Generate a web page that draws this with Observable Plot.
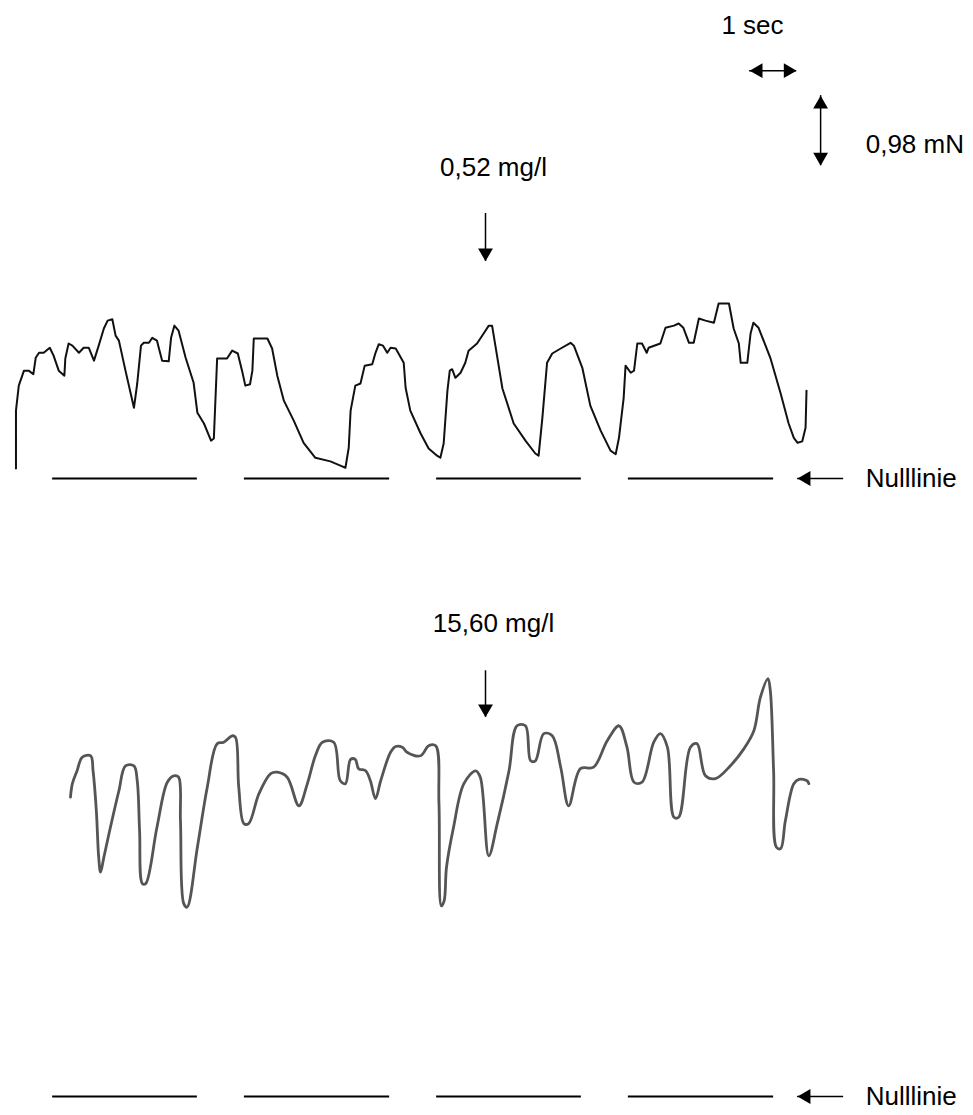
<!DOCTYPE html>
<html>
<head>
<meta charset="utf-8">
<script src="https://cdn.jsdelivr.net/npm/d3@7"></script>
<script src="https://cdn.jsdelivr.net/npm/@observablehq/plot@0.6"></script>
<style>
  html, body { margin: 0; padding: 0; background: #fff; }
  #chart svg { display: block; }
</style>
</head>
<body>
<div id="chart"></div>
<script>
// ---------- DATA (time in s, force in mN above each panel's zero line) ----------
const topTrace = [
  [0.01,0.14],[0.01,0.95],[0.07,1.30],[0.18,1.51],[0.28,1.51],[0.38,1.46],[0.43,1.69],[0.50,1.76],
  [0.60,1.76],[0.73,1.83],[0.81,1.72],[0.92,1.51],[1.04,1.44],[1.06,1.68],[1.13,1.89],[1.21,1.86],
  [1.35,1.76],[1.45,1.83],[1.56,1.83],[1.67,1.65],[1.77,1.86],[1.88,2.10],[1.96,2.21],[2.06,2.23],
  [2.13,2.00],[2.20,1.93],[2.34,1.51],[2.52,0.99],[2.59,1.33],[2.67,1.86],[2.73,1.90],[2.84,1.90],
  [2.91,1.97],[3.01,1.93],[3.12,1.65],[3.26,1.64],[3.31,1.97],[3.38,2.14],[3.47,2.07],[3.62,1.69],
  [3.79,1.34],[3.87,0.92],[4.01,0.77],[4.16,0.53],[4.22,0.56],[4.29,1.68],[4.50,1.68],[4.61,1.79],
  [4.73,1.75],[4.82,1.51],[4.89,1.30],[4.99,1.32],[5.04,1.51],[5.07,1.96],[5.36,1.96],[5.46,1.82],
  [5.57,1.44],[5.71,1.09],[5.92,0.81],[6.13,0.50],[6.38,0.29],[6.70,0.24],[6.95,0.17],[7.02,0.15],
  [7.09,0.43],[7.13,0.95],[7.23,1.30],[7.34,1.33],[7.43,1.58],[7.59,1.60],[7.66,1.76],[7.73,1.88],
  [7.82,1.86],[7.91,1.76],[7.98,1.83],[8.09,1.82],[8.26,1.62],[8.30,1.27],[8.40,0.95],[8.62,0.63],
  [8.79,0.42],[8.97,0.32],[9.04,0.29],[9.11,0.49],[9.19,1.23],[9.24,1.51],[9.29,1.53],[9.36,1.41],
  [9.47,1.48],[9.57,1.62],[9.64,1.79],[9.82,1.89],[9.96,2.03],[10.07,2.14],[10.14,2.14],[10.21,1.86],
  [10.36,1.26],[10.60,0.77],[10.85,0.53],[11.06,0.35],[11.13,0.32],[11.21,0.85],[11.31,1.62],[11.42,1.75],
  [11.60,1.82],[11.81,1.90],[11.88,1.86],[12.06,1.55],[12.23,1.02],[12.45,0.67],[12.66,0.39],[12.77,0.34],
  [12.84,0.57],[12.94,1.13],[12.98,1.58],[13.09,1.48],[13.16,1.51],[13.23,1.89],[13.33,1.89],[13.43,1.76],
  [13.47,1.83],[13.72,1.89],[13.83,2.11],[14.01,2.14],[14.11,2.17],[14.21,2.11],[14.33,1.90],[14.43,1.90],
  [14.54,2.24],[14.68,2.21],[14.86,2.18],[14.96,2.45],[15.18,2.45],[15.28,2.10],[15.39,1.89],[15.43,1.62],
  [15.57,1.62],[15.64,2.03],[15.70,2.18],[15.81,2.11],[16.06,1.69],[16.28,1.19],[16.45,0.77],[16.56,0.57],
  [16.64,0.50],[16.74,0.52],[16.81,0.71],[16.83,1.23]
];

const bottomTrace = [
  [1.17,4.19],[1.21,4.38],[1.31,4.56],[1.42,4.75],[1.60,4.77],[1.65,4.56],[1.72,4.00],[1.77,3.35],
  [1.81,3.14],[1.88,3.35],[2.02,3.77],[2.20,4.28],[2.34,4.63],[2.52,4.63],[2.59,4.42],[2.64,3.72],
  [2.70,2.98],[2.77,2.98],[3.01,3.77],[3.23,4.40],[3.37,4.49],[3.47,4.47],[3.51,3.86],[3.58,2.70],
  [3.65,2.65],[3.87,3.49],[4.08,4.33],[4.29,4.94],[4.43,4.96],[4.61,5.05],[4.68,5.03],[4.75,4.33],
  [4.86,3.82],[4.96,3.82],[5.18,4.24],[5.43,4.52],[5.57,4.54],[5.78,4.47],[6.03,4.07],[6.21,4.38],
  [6.38,4.77],[6.53,4.96],[6.77,4.96],[6.91,4.42],[7.02,4.38],[7.13,4.72],[7.23,4.72],[7.30,4.59],
  [7.45,4.56],[7.55,4.42],[7.66,4.17],[7.77,4.42],[7.98,4.82],[8.09,4.90],[8.23,4.89],[8.33,4.82],
  [8.62,4.77],[8.79,4.91],[8.94,4.91],[9.01,4.10],[9.06,2.67],[9.12,2.74],[9.17,3.21],[9.32,3.77],
  [9.54,4.38],[9.79,4.56],[9.89,4.47],[10.07,3.37],[10.25,3.82],[10.50,4.56],[10.67,5.19],[10.85,5.19],
  [10.96,4.70],[11.06,4.70],[11.24,5.08],[11.42,5.05],[11.60,4.61],[11.77,4.07],[12.02,4.59],[12.30,4.61],
  [12.59,4.98],[12.84,5.19],[13.01,4.89],[13.16,4.40],[13.33,4.40],[13.58,4.96],[13.72,5.08],[13.87,4.89],
  [14.01,3.91],[14.11,3.91],[14.36,4.89],[14.50,4.94],[14.68,4.49],[14.89,4.45],[15.21,4.63],[15.50,4.87],
  [15.71,5.12],[15.85,5.59],[16.01,5.85],[16.06,5.68],[16.13,4.56],[16.19,3.49],[16.28,3.47],[16.38,3.86],
  [16.56,4.38],[16.67,4.44],[16.84,4.42],[16.88,4.38]
];

// zero-line ("Nulllinie") segments, in s
const zeroStarts = [0.79, 4.87, 8.96, 13.04];
const zeroEnds   = [3.87, 7.96, 12.04, 16.13];

// panel labels (dose) and arrow marks
const doseLabels = ["0,52 mg/l", "15,60 mg/l"];
const doseArrowTime = [10.0, 10.0];
const doseLabelTime = [10.17, 10.17];
const doseArrowFrom = [3.71, 5.96];   // mN (arrow tail)
const doseArrowTo   = [3.04, 5.31];   // mN (arrow tip)
const doseLabelForce = [4.35, 6.62];  // mN (label centre)

const zeroLabel = "Nulllinie";

// calibration bars
const timeBar = { label: "1 sec", from: 15.62, to: 16.62, force: 5.71, labelTime: 15.68, labelForce: 6.34 };
const forceBar = { label: "0,98 mN", time: 17.13, from: 4.38, to: 5.36, labelTime: 18.09, labelForce: 4.68 };

// ---------- LAYOUT ----------
const W = 973, H = 1115;
const PX_PER_SEC = 47;
const PX_PER_MN = 70 / 0.98;
const T0_PX = 15;                 // page x of t = 0
const BASE_PX = [478, 1096];      // page y of each panel's zero line
const panelOffset = BASE_PX.map(b => (BASE_PX[1] - b) / PX_PER_MN); // mN shift per panel

const xDomain = [-T0_PX / PX_PER_SEC, (W - T0_PX) / PX_PER_SEC];
const yDomain = [(BASE_PX[1] - H) / PX_PER_MN, BASE_PX[1] / PX_PER_MN];

const Y = (v, p) => v + panelOffset[p];

const topData = topTrace.map(([t, v]) => ({t, y: Y(v, 0)}));
const bottomData = bottomTrace.map(([t, v]) => ({t, y: Y(v, 1)}));

const zeroSegs = [0, 1].flatMap(p => zeroStarts.map((s, i) => ({x1: s, x2: zeroEnds[i], y: Y(0, p)})));

const doseArrows = [0, 1].map(p => ({x: doseArrowTime[p], y1: Y(doseArrowFrom[p], p), y2: Y(doseArrowTo[p], p)}));
const doseTexts = [0, 1].map(p => ({x: doseLabelTime[p], y: Y(doseLabelForce[p], p), text: doseLabels[p]}));

const nullArrowTail = 17.62, nullArrowTip = 16.64, nullLabelTime = 18.09;
const nullArrows = [0, 1].map(p => ({x1: nullArrowTail, x2: nullArrowTip, y: Y(0, p)}));
const nullTexts = [0, 1].map(p => ({x: nullLabelTime, y: Y(0, p), text: zeroLabel}));

const headR = 5.5;
const tipOff = 2 * Math.sqrt(Math.PI * headR * headR / (3 * Math.sqrt(3)));

const font = "Liberation Sans, Arial, Helvetica, sans-serif";
const FS = 26;

const chart = Plot.plot({
  width: W,
  height: H,
  margin: 0,
  style: { background: "#fff", fontFamily: font },
  x: { domain: xDomain, axis: null },
  y: { domain: yDomain, axis: null },
  marks: [
    // traces
    Plot.line(topData, {x: "t", y: "y", stroke: "#111", strokeWidth: 2, strokeLinejoin: "round"}),
    Plot.line(bottomData, {x: "t", y: "y", stroke: "#555", strokeWidth: 2.8, strokeLinejoin: "round", curve: "catmull-rom"}),
    // zero line segments
    Plot.ruleY(zeroSegs, {x1: "x1", x2: "x2", y: "y", stroke: "#000", strokeWidth: 2}),
    // dose arrows
    Plot.ruleX(doseArrows, {x: "x", y1: "y1", y2: "y2", stroke: "#000", strokeWidth: 1.5}),
    Plot.dot(doseArrows, {x: "x", y: "y2", symbol: "triangle", r: headR, fill: "#000", rotate: 180, dy: -tipOff}),
    Plot.text(doseTexts, {x: "x", y: "y", text: "text", fontSize: FS, fill: "#000", textAnchor: "middle"}),
    // Nulllinie arrows
    Plot.ruleY(nullArrows, {x1: "x1", x2: "x2", y: "y", stroke: "#000", strokeWidth: 1.5}),
    Plot.dot(nullArrows, {x: "x2", y: "y", symbol: "triangle", r: headR, fill: "#000", rotate: -90, dx: tipOff}),
    Plot.text(nullTexts, {x: "x", y: "y", text: "text", fontSize: FS, fill: "#000", textAnchor: "start"}),
    // time calibration bar
    Plot.ruleY([timeBar], {x1: "from", x2: "to", y: d => Y(d.force, 0), stroke: "#000", strokeWidth: 1.5}),
    Plot.dot([timeBar], {x: "from", y: d => Y(d.force, 0), symbol: "triangle", r: headR, fill: "#000", rotate: -90, dx: tipOff}),
    Plot.dot([timeBar], {x: "to", y: d => Y(d.force, 0), symbol: "triangle", r: headR, fill: "#000", rotate: 90, dx: -tipOff}),
    Plot.text([timeBar], {x: "labelTime", y: d => Y(d.labelForce, 0), text: "label", fontSize: FS, fill: "#000", textAnchor: "middle"}),
    // force calibration bar
    Plot.ruleX([forceBar], {x: "time", y1: d => Y(d.from, 0), y2: d => Y(d.to, 0), stroke: "#000", strokeWidth: 1.5}),
    Plot.dot([forceBar], {x: "time", y: d => Y(d.to, 0), symbol: "triangle", r: headR, fill: "#000", rotate: 0, dy: tipOff}),
    Plot.dot([forceBar], {x: "time", y: d => Y(d.from, 0), symbol: "triangle", r: headR, fill: "#000", rotate: 180, dy: -tipOff}),
    Plot.text([forceBar], {x: "labelTime", y: d => Y(d.labelForce, 0), text: "label", fontSize: FS, fill: "#000", textAnchor: "start"})
  ]
});

document.getElementById("chart").append(chart);
</script>
</body>
</html>
